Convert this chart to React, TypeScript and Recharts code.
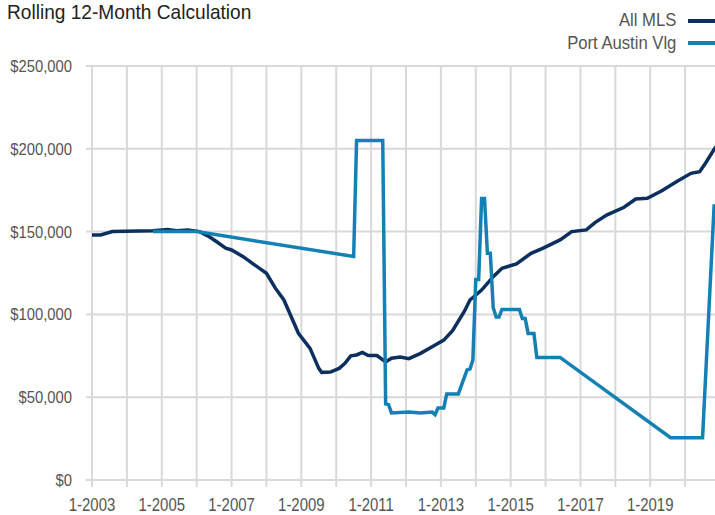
import { LineChart, Line, XAxis, YAxis, CartesianGrid } from "recharts";

// month index: 0 = Jan 2003
const mlsMonths = [
  0, 3, 7, 21, 26, 29, 33, 37, 40, 43, 46, 48, 52, 56, 60, 63, 66, 68, 71, 75,
  78, 79, 82, 85, 87, 89, 91, 93, 95, 98, 101, 103, 106, 109, 113, 117, 121, 124,
  128, 130, 134, 138, 141, 146, 151, 155, 161, 165, 170, 173, 177, 183, 187, 191,
  196, 201, 206, 209, 211, 214, 215,
];
const mlsValues = [
  148000, 148000, 150000, 150500, 151200, 150500, 151000, 150000, 147300, 143700,
  140000, 138900, 134900, 129800, 124800, 116000, 108700, 100700, 88600, 79500,
  67400, 65000, 65200, 67400, 70500, 75000, 75500, 77000, 75200, 75200, 71300,
  73500, 74300, 73300, 76500, 80500, 84500, 90200, 101600, 108700, 114700,
  122800, 127900, 130500, 136900, 139900, 145000, 150000, 151000, 155400, 160000,
  164700, 169700, 170100, 174700, 180100, 185200, 186200, 191300, 199700, 202000,
];

const paMonths = [
  21, 36, 90, 91, 100, 101, 102, 103, 109, 113, 117, 118, 119, 121, 122, 126,
  129, 130, 131, 132, 133, 134, 135, 136, 137, 138, 139, 140, 141, 147, 148, 149,
  150, 152, 153, 161, 199, 210, 214,
];
const paValues = [
  150000, 150000, 135000, 205000, 205000, 46000, 45500, 40500, 41000, 40500,
  41000, 39500, 43500, 43500, 52000, 52000, 66500, 67000, 72500, 121000, 121000,
  170000, 170000, 137000, 137000, 104000, 98500, 98500, 103000, 103000, 97500,
  97500, 88500, 88500, 74000, 74000, 25500, 25500, 166500,
];

const xTicks = Array.from({ length: 19 }, (_, i) => i * 12);
const yTicks = [0, 50000, 100000, 150000, 200000, 250000];

const mlsData = mlsMonths.map((m, i) => ({ m, v: mlsValues[i] }));
const paData = paMonths.map((m, i) => ({ m, v: paValues[i] }));

const font = "'Liberation Sans', Arial, sans-serif";
const grid = "#d9d9d9";
const navy = "#0b2f5e";
const blue = "#1380b6";
const label = "#555";

// the original uses a condensed face, so squeeze the text horizontally
function XTick({ x, y, payload }: any) {
  const m = payload.value;
  if (m % 24 !== 0 || m >= 216) return null;
  return (
    <text
      transform={`translate(${x},${y}) scale(0.83,1)`}
      textAnchor="middle"
      dy="0.71em"
      fill={label}
      fontSize={18}
      fontFamily={font}
    >
      {`1-${2003 + m / 12}`}
    </text>
  );
}

function YTick({ x, y, payload }: any) {
  return (
    <text
      transform={`translate(${x},${y}) scale(0.87,1)`}
      textAnchor="end"
      dy="0.355em"
      fill={label}
      fontSize={17}
      fontFamily={font}
    >
      {`$${payload.value.toLocaleString("en-US")}`}
    </text>
  );
}

export default function App() {
  return (
    <div
      style={{
        position: "fixed",
        left: 0,
        top: 0,
        width: 715,
        height: 515,
        overflow: "hidden",
        background: "#fff",
        fontFamily: font,
      }}
    >
      <div
        style={{
          position: "absolute",
          left: 7,
          top: 0,
          fontSize: 21,
          lineHeight: "24px",
          color: "#222",
          whiteSpace: "nowrap",
          transform: "scaleX(0.91)",
          transformOrigin: "left",
        }}
      >
        Rolling 12-Month Calculation
      </div>
      <div
        style={{
          position: "absolute",
          right: 39,
          top: 8,
          fontSize: 18.5,
          color: label,
          textAlign: "right",
          lineHeight: "23px",
          whiteSpace: "nowrap",
          transform: "scaleX(0.9)",
          transformOrigin: "right",
        }}
      >
        <div>All MLS</div>
        <div>Port Austin Vlg</div>
      </div>
      <div style={{ position: "absolute", left: 688, top: 19, width: 40, height: 4, background: navy }} />
      <div style={{ position: "absolute", left: 688, top: 41, width: 40, height: 4, background: blue }} />

      <LineChart
        width={722}
        height={515}
        margin={{ top: 66, right: 2, left: 0, bottom: 0 }}
        style={{ position: "absolute", left: 0, top: 0 }}
      >
        <CartesianGrid stroke={grid} strokeWidth={2} />
        <XAxis
          type="number"
          dataKey="m"
          domain={[0, 216]}
          ticks={xTicks}
          interval={0}
          height={35}
          tick={<XTick />}
          tickSize={7}
          tickMargin={11}
          axisLine={{ stroke: grid, strokeWidth: 2 }}
          tickLine={{ stroke: grid, strokeWidth: 2 }}
          allowDuplicatedCategory={false}
        />
        <YAxis
          type="number"
          domain={[0, 250000]}
          ticks={yTicks}
          interval={0}
          width={92}
          tick={<YTick />}
          tickSize={6}
          tickMargin={14}
          axisLine={false}
          tickLine={{ stroke: grid, strokeWidth: 2 }}
        />
        <Line
          data={mlsData}
          dataKey="v"
          name="All MLS"
          type="linear"
          stroke={navy}
          strokeWidth={3.5}
          dot={false}
          isAnimationActive={false}
        />
        <Line
          data={paData}
          dataKey="v"
          name="Port Austin Vlg"
          type="linear"
          stroke={blue}
          strokeWidth={3.5}
          dot={false}
          isAnimationActive={false}
        />
      </LineChart>
    </div>
  );
}
